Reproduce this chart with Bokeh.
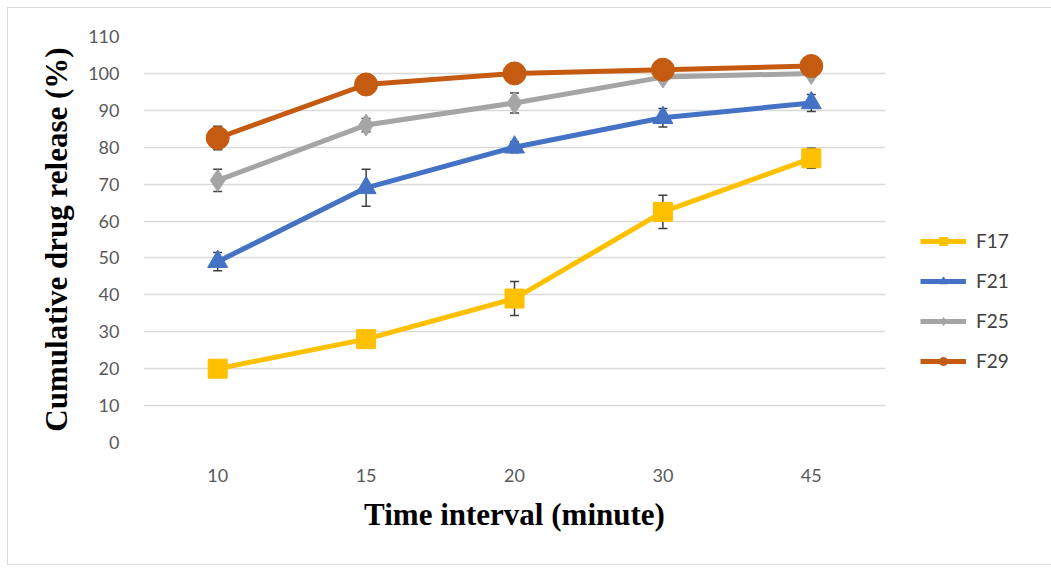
from bokeh.plotting import figure
from bokeh.models import ColumnDataSource, Whisker, TeeHead, Legend, LegendItem, FactorRange
from bokeh.embed import file_html
from bokeh.resources import INLINE

times = ["10", "15", "20", "30", "45"]
f17 = [20, 28, 39, 62.5, 77]
f17_err = [1, 1, 4.6, 4.5, 2.7]
f21 = [49, 69, 80, 88, 92]
f21_err = [2.5, 5, 1.5, 2.5, 2.3]
f25 = [71, 86, 92, 99, 100]
f25_err = [3, 1.8, 2.7, 1, 1]
f29 = [82.5, 97, 100, 101, 102]
f29_err = [3.2, 2.5, 2.6, 1, 1]

series = [
    ("F17", f17, f17_err, "#FFC000", "square", 19),
    ("F21", f21, f21_err, "#4472C4", "triangle", 20),
    ("F25", f25, f25_err, "#A5A5A5", "diamond", 22),
    ("F29", f29, f29_err, "#C55A11", "circle", 23),
]

p = figure(x_range=FactorRange(*times), y_range=(0, 110),
           frame_width=742, frame_height=406,
           min_border_left=135, min_border_right=158,
           min_border_top=28, min_border_bottom=122,
           output_backend="svg", toolbar_location=None,
           styles={"border": "1px solid #d9d9d9", "margin-left": "7px", "margin-top": "7px"})
p.outline_line_color = None
p.xgrid.grid_line_color = None
p.ygrid.grid_line_color = "#d9d9d9"
p.ygrid.grid_line_width = 1.5
p.yaxis.ticker = list(range(0, 111, 10))

for ax in (p.xaxis, p.yaxis):
    ax.axis_line_color = None
    ax.major_tick_line_color = None
    ax.minor_tick_line_color = None
    ax.major_tick_out = 0
    ax.major_tick_in = 0
    ax.major_label_text_font = "Lato"
    ax.major_label_text_font_size = "18px"
    ax.major_label_text_color = "#595959"
    ax.axis_label_text_font = "Liberation Serif"
    ax.axis_label_text_font_style = "bold"
    ax.axis_label_text_color = "#000000"

p.yaxis.major_label_standoff = 24
p.xaxis.major_label_standoff = 26
p.yaxis.axis_label = "Cumulative drug release (%)"
p.yaxis.axis_label_text_font_size = "31px"
p.yaxis.axis_label_standoff = 11
p.xaxis.axis_label = "Time interval (minute)"
p.xaxis.axis_label_text_font_size = "31px"
p.xaxis.axis_label_standoff = 12

items = []
for name, vals, errs, color, marker, size in series:
    src = ColumnDataSource(dict(
        x=times, y=vals,
        upper=[v + e for v, e in zip(vals, errs)],
        lower=[v - e for v, e in zip(vals, errs)],
    ))
    w = Whisker(source=src, base="x", upper="upper", lower="lower",
                line_color="#404040", line_width=1.5,
                upper_head=TeeHead(size=9, line_color="#404040", line_width=1.5),
                lower_head=TeeHead(size=9, line_color="#404040", line_width=1.5))
    p.add_layout(w)
    ln = p.line("x", "y", source=src, line_color=color, line_width=5)
    sc = p.scatter("x", "y", source=src, marker=marker, size=size,
                   fill_color=color, line_color=color)
    items.append(LegendItem(label=name, renderers=[ln, sc]))

legend = Legend(items=items, location=(35, 70), margin=0,
                glyph_width=46, glyph_height=20, spacing=17,
                label_standoff=10, label_text_font="Lato",
                label_text_font_size="19px", label_text_color="#404040",
                border_line_color=None, background_fill_alpha=0, padding=10)
p.add_layout(legend, "right")

open("out.html", "w").write(file_html(p, INLINE))
